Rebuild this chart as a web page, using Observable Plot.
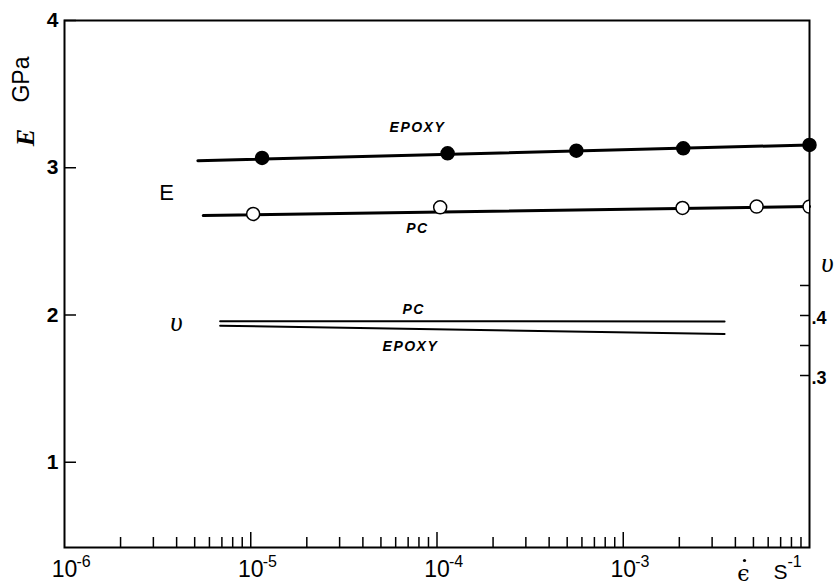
<!DOCTYPE html>
<html><head><meta charset="utf-8">
<script src="https://cdn.jsdelivr.net/npm/d3@7"></script>
<script src="https://cdn.jsdelivr.net/npm/@observablehq/plot@0.6"></script>
<style>
body{margin:0;background:#fff;}
#chart{width:837px;height:585px;}
</style></head><body><div id="chart"></div>
<script>
// ---- Young's modulus E (GPa) vs strain rate (1/s) ----
const epoxyRate = [1.15e-5, 1.14e-4, 5.6e-4, 2.1e-3, 1.0e-2];
const epoxyE    = [3.067, 3.098, 3.116, 3.132, 3.155];
const epoxyLineRate = [5.2e-6, 1.0e-2];
const epoxyLineE    = [3.048, 3.155];
const pcRate = [1.03e-5, 1.04e-4, 2.08e-3, 5.2e-3, 1.0e-2];
const pcE    = [2.686, 2.731, 2.727, 2.736, 2.736];
const pcLineRate = [5.56e-6, 1.0e-2];
const pcLineE    = [2.675, 2.736];
// ---- Poisson's ratio (right axis) ----
const nuRate   = [6.85e-6, 3.5e-3];
const pcNu     = [0.3905, 0.390];
const epoxyNu  = [0.383, 0.369];
// ---- ticks / labels ----
const eTicks = [1, 2, 3, 4];
const nuTicks = [0.30, 0.35, 0.40, 0.45];
const nuLabelTicks = [0.30, 0.40];
const nuLabelText = [".3", ".4"];
const decades = [1e-6, 1e-5, 1e-4, 1e-3];
const decadeExp = ["-6", "-5", "-4", "-3"];
const majorTicks = [1e-5, 1e-4, 1e-3];
const minorTicks = [];
for (const d of decades) for (let k = 2; k <= 9; k++) minorTicks.push(d * k);
// annotation labels
const eLabels = [
  {t: "EPOXY", x: 7.85e-5, y: 3.273},
  {t: "PC",    x: 7.85e-5, y: 2.585}
];
const nuLabels = [
  {t: "PC",    x: 7.5e-5, nu: 0.410},
  {t: "EPOXY", x: 7.2e-5, nu: 0.349}
];

// right (ν) axis mapped onto the E coordinate
const nuToE = d3.scaleLinear().domain([0.3, 0.4]).range([1.589, 1.9966]);

const W = 837, H = 585, mL = 64, mR = 28, mT = 20, mB = 38;
const fw = W - mL - mR, fh = H - mT - mB;
const sans = "'Liberation Sans', Arial, Helvetica, sans-serif";
const serif = "'Liberation Serif', 'DejaVu Serif', serif";
const C = {textAnchor: "middle", lineAnchor: "middle"};

const zip = (xs, ys) => xs.map((x, i) => ({x, y: ys[i]}));

const chart = Plot.plot({
  width: W, height: H,
  marginLeft: mL, marginRight: mR, marginTop: mT, marginBottom: mB,
  x: {type: "log", domain: [1e-6, 1e-2], axis: null},
  y: {domain: [0.421, 4], axis: null},
  style: {background: "#fff", color: "#000", fontFamily: sans},
  marks: [
    // inward ticks
    Plot.ruleX(minorTicks, {x: d => d, insetTop: fh - 10, strokeWidth: 1.5}),
    Plot.ruleX(majorTicks, {x: d => d, insetTop: fh - 15, strokeWidth: 1.5}),
    Plot.ruleY(eTicks, {y: d => d, insetRight: fw - 12, strokeWidth: 1.5}),
    Plot.ruleY(nuTicks, {y: d => nuToE(d), insetLeft: fw - 9, strokeWidth: 1.5}),
    Plot.frame({stroke: "#000", strokeWidth: 2}),
    // left tick labels
    Plot.text(eTicks, {y: d => d, text: d => String(d), frameAnchor: "left", textAnchor: "end", lineAnchor: "middle",
      dx: -6, fontSize: 21, fontWeight: "bold"}),
    // right tick labels
    Plot.text(nuLabelTicks, {y: d => nuToE(d), text: (d, i) => nuLabelText[i], frameAnchor: "right",
      textAnchor: "start", lineAnchor: "middle", dx: 2, dy: 3, fontSize: 18, fontWeight: "bold"}),
    // bottom tick labels: 10^n
    Plot.text(decades, {x: d => d, text: () => "10", frameAnchor: "bottom", ...C, dy: 22, fontSize: 23}),
    Plot.text(decades, {x: d => d, text: (d, i) => decadeExp[i], frameAnchor: "bottom",
      textAnchor: "start", lineAnchor: "middle", dx: 12, dy: 14, fontSize: 16}),
    // x unit: strain rate symbol with overdot, and s^-1
    Plot.text(["ϵ"], {frameAnchor: "bottom-right", ...C, dx: -66, dy: 26, fontSize: 22, fontFamily: "'DejaVu Serif', serif"}),
    Plot.dot([0], {frameAnchor: "bottom-right", dx: -65, dy: 13, r: 1.6, fill: "#000", stroke: "none"}),
    Plot.text(["S"], {frameAnchor: "bottom-right", ...C, dx: -29, dy: 25, fontSize: 21}),
    Plot.text(["-1"], {frameAnchor: "bottom-right", textAnchor: "start", lineAnchor: "middle", dx: -22, dy: 14, fontSize: 16}),
    // y label
    Plot.text(["GPa"], {frameAnchor: "top-left", ...C, dx: -43, dy: 59, rotate: -90, fontSize: 23}),
    Plot.text(["E"], {frameAnchor: "top-left", ...C, dx: -39, dy: 117, rotate: -90, fontSize: 26,
      fontFamily: serif, fontStyle: "italic", fontWeight: "bold"}),
    // right ν label
    Plot.text(["υ"], {frameAnchor: "top-right", ...C, dx: 18, dy: 243, fontSize: 27, fontFamily: serif, fontStyle: "italic"}),
    // group labels
    Plot.text(["E"], {frameAnchor: "top-left", ...C, dx: 102, dy: 172, fontSize: 22}),
    Plot.text(["υ"], {frameAnchor: "top-left", ...C, dx: 112, dy: 302, fontSize: 27, fontFamily: serif, fontStyle: "italic"}),
    // E lines
    Plot.line(zip(epoxyLineRate, epoxyLineE), {x: "x", y: "y", strokeWidth: 3}),
    Plot.line(zip(pcLineRate, pcLineE), {x: "x", y: "y", strokeWidth: 3}),
    // ν lines
    Plot.line(zip(nuRate, pcNu), {x: "x", y: d => nuToE(d.y), strokeWidth: 2}),
    Plot.line(zip(nuRate, epoxyNu), {x: "x", y: d => nuToE(d.y), strokeWidth: 2}),
    // points
    Plot.dot(zip(epoxyRate, epoxyE), {x: "x", y: "y", r: 6.5, fill: "#000", stroke: "#000"}),
    Plot.dot(zip(pcRate, pcE), {x: "x", y: "y", r: 6.5, fill: "#fff", stroke: "#000", strokeWidth: 1.5, clip: true}),
    // annotation labels
    Plot.text(eLabels, {x: "x", y: "y", text: "t", fontSize: 14, fontWeight: "bold", fontStyle: "italic"}),
    Plot.text(nuLabels, {x: "x", y: d => nuToE(d.nu), text: "t", fontSize: 14, fontWeight: "bold", fontStyle: "italic"})
  ]
});
document.getElementById("chart").append(chart);
// letter spacing for annotation labels
d3.select(chart).selectAll("text").filter(function(){ const t=this.textContent; return t==="EPOXY"||t==="PC"; })
  .attr("letter-spacing", "1.5px");
</script>
</body></html>
